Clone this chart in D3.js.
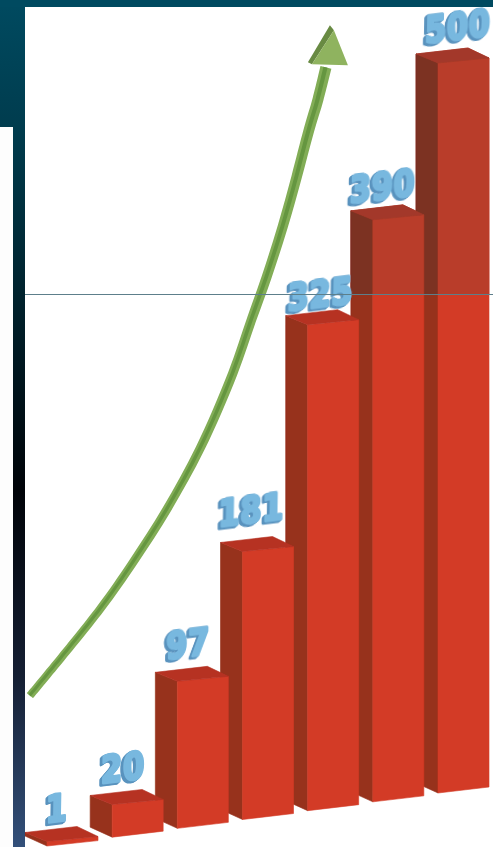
<!DOCTYPE html>
<html>
<head>
<meta charset="utf-8">
<script src="https://cdn.jsdelivr.net/npm/d3@7"></script>
<style>
html, body { margin:0; padding:0; background:#fff; overflow:hidden; }
svg { display:block; }
</style>
</head>
<body>
<svg id="chart"></svg>
<script>
// values
var categories = ["a","b","c","d","e","f","g"]
var values = [1, 20, 97, 181, 325, 390, 500]

// growth arrow, in bar position / value units
var trendPos = [-0.26, 0.81, 1.32, 1.84, 2.35, 2.85, 3.14, 3.37, 3.62, 3.83, 4.02, 4.16, 4.28]
var trendVal = [100.9, 154.2, 183.7, 215.7, 252.9, 299.5, 333.8, 361, 394.5, 429.5, 463.2, 485.3, 508.1]

var screen = {width:493, height:847}
var plot = {left:25, top:7}
var foldY = 294
var barWidth = 51

// small hand corrections for where each label sits
var labelNudgeX = [0, 1, 1, -1, 3, 0, 10]
var labelNudgeY = [4, 0, -1, -5, 6, 3, 0]

var xPos = d3.scaleLinear().domain([0,6]).range([47,438])
var baseY = d3.scaleLinear().domain([0,6]).range([846,793])
// the picture is in perspective, so value to height is not quite straight
var heightScale = d3.scaleLinear().domain([0,97,181,325,390,500]).range([3,147,268,486,582,730])

var svg = d3.select("#chart")
    .attr("width",screen.width)
    .attr("height",screen.height)

var defs = svg.append("defs")

var stripGrad = defs.append("linearGradient")
    .attr("id","strip")
    .attr("x1",0).attr("x2",0).attr("y1",0).attr("y2",1)
stripGrad.selectAll("stop")
    .data([[0,"#004a60"],[0.15,"#003c4e"],[0.35,"#00222d"],[0.58,"#000308"],[0.8,"#151f33"],[1,"#33507a"]])
    .enter().append("stop")
    .attr("offset",function(d){ return d[0] })
    .attr("stop-color",function(d){ return d[1] })

defs.append("clipPath").attr("id","plotClip").append("rect")
    .attr("x",plot.left).attr("y",plot.top)
    .attr("width",screen.width-plot.left).attr("height",screen.height-plot.top)
defs.append("clipPath").attr("id","upperClip").append("rect")
    .attr("x",plot.left).attr("y",plot.top)
    .attr("width",screen.width-plot.left).attr("height",foldY-plot.top)

defs.append("filter").attr("id","soft")
    .attr("x","-10%").attr("y","-10%").attr("width","120%").attr("height","120%")
    .append("feGaussianBlur").attr("stdDeviation",0.5)

// backdrop
svg.append("rect").attr("width",screen.width).attr("height",screen.height).attr("fill","#fff")
svg.append("rect").attr("width",plot.left).attr("height",screen.height).attr("fill","url(#strip)")
svg.append("rect").attr("width",screen.width).attr("height",plot.top).attr("fill","#004a60")
svg.append("rect").attr("y",127).attr("width",13).attr("height",screen.height-127).attr("fill","#fdfdfd")

var poly = function(pts)
{
    return pts.map(function(p){ return p[0]+","+p[1] }).join(" ")
}

var barShape = function(i)
{
    var x = xPos(i)
    var y0 = baseY(i)
    var y1 = y0 - heightScale(values[i])
    var slope = Math.min(6,(y0-y1)*1.2)
    return {
        side:[[x-22,y1-9],[x,y1],[x,y0],[x-22,y0-Math.min(10,(y0-y1)+6)]],
        front:[[x,y1],[x+barWidth,y1-5],[x+barWidth,y0-slope],[x,y0]],
        top:[[x-22,y1-9],[x+30,y1-15],[x+barWidth,y1-5],[x,y1]]
    }
}

var drawBars = function(target, colors)
{
    // right to left, the nearer bar covers the next one's side
    var order = d3.range(values.length).reverse()
    var bars = target.selectAll("g")
        .data(order)
        .enter()
        .append("g")
    ;["side","front","top"].forEach(function(face)
    {
        bars.append("polygon")
            .attr("points",function(i){ return poly(barShape(i)[face]) })
            .attr("fill",colors[face])
            .attr("stroke",colors[face])
            .attr("stroke-width",0.6)
    })
}

var chart = svg.append("g").attr("clip-path","url(#plotClip)")

drawBars(chart.append("g").attr("filter","url(#soft)"), {side:"#97301c", front:"#d33b26", top:"#b63122"})
drawBars(chart.append("g").attr("clip-path","url(#upperClip)").append("g").attr("filter","url(#soft)"),
    {side:"#7c3021", front:"#b93d2a", top:"#a3392a"})

// arrow, a ribbon that gets wider towards the head
var trend = trendPos.map(function(p,i)
{
    return [xPos(p), baseY(p)-heightScale(trendVal[i])]
})
var ribbon = function(from, to)
{
    var n = trend.length
    var left = [], right = []
    trend.forEach(function(p,i)
    {
        var a = trend[Math.max(0,i-1)]
        var b = trend[Math.min(n-1,i+1)]
        var len = Math.hypot(b[0]-a[0],b[1]-a[1])
        var nx = -(b[1]-a[1])/len
        var ny = (b[0]-a[0])/len
        var w = 4 + 1.6*(i/(n-1))
        left.push([p[0]+nx*w*from, p[1]+ny*w*from])
        right.unshift([p[0]+nx*w*to, p[1]+ny*w*to])
    })
    var edge = d3.line().curve(d3.curveCatmullRom.alpha(0.5))
    return edge(left) + "L" + edge(right).slice(1) + "Z"
}

var arrow = chart.append("g").attr("filter","url(#soft)")
arrow.append("path").attr("d",ribbon(-1,1)).attr("fill","#82ad56")
arrow.append("path").attr("d",ribbon(-0.45,0.3)).attr("fill","#659640")

var tip = trend[trend.length-1]
arrow.append("polygon")
    .attr("points",poly([[tip[0]+4,tip[1]-42],[tip[0]-18,tip[1]-5],[tip[0]-14,tip[1]-3],[tip[0]+8,tip[1]-37]]))
    .attr("fill","#678a42")
arrow.append("polygon")
    .attr("points",poly([[tip[0]+8,tip[1]-37],[tip[0]+22,tip[1]-2],[tip[0]-14,tip[1]-3]]))
    .attr("fill","#8fb35e")

// labels, the 3D look is the same text stacked down and to the left
var labels = chart.append("g")
    .attr("filter","url(#soft)")
    .selectAll("g")
    .data(d3.range(values.length))
    .enter()
    .append("g")
    .attr("transform",function(i)
    {
        var x = xPos(i) + barWidth/2 - 16 + labelNudgeX[i]
        var y = baseY(i) - heightScale(values[i]) - 24 + labelNudgeY[i]
        return "translate("+x+","+y+") rotate(-7) skewX(-8) scale(1,1.2)"
    })

var addLabelText = function(dx, dy, color, strokeWidth)
{
    labels.append("text")
        .attr("x",dx)
        .attr("y",dy)
        .attr("text-anchor","middle")
        .attr("font-family","DejaVu Sans")
        .attr("font-weight","bold")
        .attr("font-size",31)
        .attr("letter-spacing",0.5)
        .attr("stroke",color)
        .attr("stroke-width",strokeWidth)
        .attr("stroke-linejoin","round")
        .attr("fill",color)
        .text(function(i){ return values[i] })
}
d3.range(4,0,-1).forEach(function(s)
{
    addLabelText(-s*0.7, s*0.4, "#5a93be", 2.4)
})
addLabelText(0, 0, "#78b8df", 2.4)

// thin rule across the slide
svg.append("line")
    .attr("x1",plot.left).attr("x2",screen.width)
    .attr("y1",foldY+0.5).attr("y2",foldY+0.5)
    .attr("stroke","#5d7f8b")
    .attr("stroke-width",1)
</script>
</body>
</html>
